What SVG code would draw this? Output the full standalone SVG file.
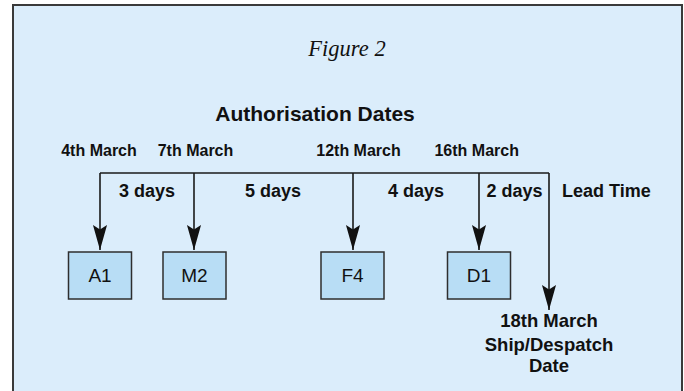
<svg xmlns="http://www.w3.org/2000/svg" width="684" height="391" viewBox="0 0 684 391">
<style>
.frame{fill:#dbedfb;stroke:#3a3a3a;stroke-width:2}
.box{fill:#b8ddf5;stroke:#2e2e2e;stroke-width:1.5}
.conn{fill:none;stroke:#1a1a1a;stroke-width:1.6}
.t{font-family:"Liberation Sans",Arial,sans-serif;fill:#111;text-anchor:middle}
.b{font-weight:bold}
.date{font-size:16px}
.days{font-size:18px}
.lbl{font-size:18.5px}
.node{font-size:19px}
</style>
<defs>
<marker id="ah" markerUnits="userSpaceOnUse" markerWidth="26" markerHeight="16" viewBox="-23 -7 24 14" refX="0" refY="0" orient="auto">
<path d="M0,0 L-23,-6.5 L-19,0 L-23,6.5 Z" fill="#111"/>
</marker>
</defs>
<rect class="frame" x="13" y="5" width="669" height="400"/>
<text x="347" y="56" style="font-family:'Liberation Serif','Times New Roman',serif;font-style:italic;font-size:22.5px;fill:#111" text-anchor="middle">Figure 2</text>
<text class="t b" x="315" y="120.5" style="font-size:21px">Authorisation Dates</text>
<g id="dates">
<text class="t b date" x="99" y="156">4th March</text>
<text class="t b date" x="195.5" y="156">7th March</text>
<text class="t b date" x="358.5" y="156">12th March</text>
<text class="t b date" x="476.7" y="156">16th March</text>
</g>
<g id="connectors">
<path class="conn" d="M100,173 H549"/>
<path class="conn" d="M100,173 V250" marker-end="url(#ah)"/>
<path class="conn" d="M194,173 V250" marker-end="url(#ah)"/>
<path class="conn" d="M353,173 V250" marker-end="url(#ah)"/>
<path class="conn" d="M479,173 V250" marker-end="url(#ah)"/>
<path class="conn" d="M549,173 V310" marker-end="url(#ah)"/>
</g>
<g id="intervals">
<text class="t b days" x="147" y="197">3 days</text>
<text class="t b days" x="273" y="197">5 days</text>
<text class="t b days" x="416" y="197">4 days</text>
<text class="t b days" x="514.5" y="197">2 days</text>
<text class="t b days" x="562" y="197" style="text-anchor:start">Lead Time</text>
</g>
<g id="A1"><rect class="box" x="68.5" y="252" width="63" height="47"/><text class="t node" x="100" y="282">A1</text></g>
<g id="M2"><rect class="box" x="163" y="252" width="63" height="47"/><text class="t node" x="194.5" y="282">M2</text></g>
<g id="F4"><rect class="box" x="321" y="252" width="63" height="47"/><text class="t node" x="352.5" y="282">F4</text></g>
<g id="D1"><rect class="box" x="447.5" y="252" width="63" height="47"/><text class="t node" x="479" y="282">D1</text></g>
<g id="ship">
<text class="t b lbl" x="549" y="327">18th March</text>
<text class="t b lbl" x="549" y="350.5">Ship/Despatch</text>
<text class="t b lbl" x="549" y="372">Date</text>
</g>
</svg>
